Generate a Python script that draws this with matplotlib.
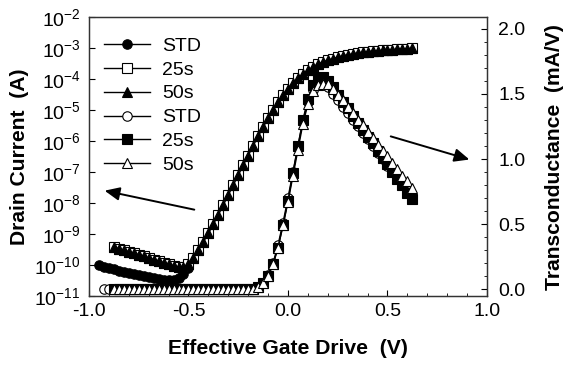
import matplotlib
matplotlib.use("Agg")
import matplotlib.pyplot as plt
import numpy as np
from matplotlib.ticker import FixedLocator, MultipleLocator

plt.rcParams['font.family'] = ['Liberation Sans', 'DejaVu Sans']
plt.rcParams['mathtext.fontset'] = 'custom'
plt.rcParams['mathtext.rm'] = 'Liberation Sans'
plt.rcParams['mathtext.default'] = 'regular'

# Effective gate drive (V)
V = [-0.95, -0.925, -0.9, -0.875, -0.85, -0.825, -0.8, -0.775, -0.75, -0.725,
     -0.7, -0.675, -0.65, -0.625, -0.6, -0.575, -0.55, -0.525, -0.5, -0.475,
     -0.45, -0.425, -0.4, -0.375, -0.35, -0.325, -0.3, -0.275, -0.25, -0.225,
     -0.2, -0.175, -0.15, -0.125, -0.1, -0.075, -0.05, -0.025, 0.0, 0.025,
     0.05, 0.075, 0.1, 0.125, 0.15, 0.175, 0.2, 0.225, 0.25, 0.275,
     0.3, 0.325, 0.35, 0.375, 0.4, 0.425, 0.45, 0.475, 0.5, 0.525,
     0.55, 0.575, 0.6, 0.625]

# log10 of drain current (A)
logid_std = [-10.00, -10.06, -10.10, -10.14, -10.18, -10.22, -10.26, -10.29, -10.32, -10.36,
             -10.39, -10.42, -10.45, -10.47, -10.48, -10.47, -10.42, -10.30, -10.08, -9.78,
             -9.50, -9.25, -8.98, -8.68, -8.38, -8.06, -7.74, -7.42, -7.10, -6.78,
             -6.47, -6.15, -5.85, -5.55, -5.27, -5.00, -4.75, -4.52, -4.32, -4.14,
             -3.98, -3.84, -3.72, -3.61, -3.52, -3.45, -3.39, -3.34, -3.29, -3.25,
             -3.22, -3.19, -3.16, -3.14, -3.12, -3.10, -3.08, -3.07, -3.06, -3.05,
             -3.04, -3.03, -3.02, -3.01]
logid_25s = [-9.42, -9.47, -9.52, -9.57, -9.62, -9.67, -9.72, -9.77, -9.82, -9.87,
             -9.92, -9.97, -10.02, -10.07, -10.06, -9.98, -9.76,
             -9.50, -9.25, -8.98, -8.68, -8.38, -8.06, -7.74, -7.42, -7.10, -6.78,
             -6.47, -6.15, -5.85, -5.55, -5.27, -5.00, -4.75, -4.52, -4.32, -4.14,
             -3.98, -3.84, -3.72, -3.61, -3.52, -3.45, -3.39, -3.34, -3.29, -3.25,
             -3.22, -3.19, -3.16, -3.14, -3.12, -3.10, -3.08, -3.07, -3.06, -3.05,
             -3.04, -3.03, -3.02, -3.01]
logid_50s = [-9.42, -9.47, -9.52, -9.57, -9.62, -9.67, -9.72, -9.77, -9.82, -9.87,
             -9.92, -9.97, -10.02, -10.07, -10.06, -9.98, -9.76,
             -9.50, -9.25, -8.98, -8.68, -8.38, -8.06, -7.74, -7.42, -7.10, -6.78,
             -6.47, -6.15, -5.85, -5.55, -5.27, -5.00, -4.75, -4.52, -4.32, -4.14,
             -3.98, -3.84, -3.72, -3.61, -3.52, -3.45, -3.39, -3.34, -3.29, -3.25,
             -3.22, -3.19, -3.16, -3.14, -3.12, -3.10, -3.08, -3.07, -3.06, -3.05,
             -3.04, -3.03, -3.02, -3.01]

# transconductance (mA/V)
gm_std = [0.0] * 30 + [0.005, 0.02, 0.05, 0.11, 0.20, 0.34, 0.51, 0.70, 0.90, 1.10,
                       1.29, 1.44, 1.53, 1.57, 1.57, 1.55, 1.50, 1.45, 1.40, 1.35,
                       1.30, 1.25, 1.20, 1.15, 1.10, 1.05, 1.00, 0.95, 0.90, 0.85,
                       0.80, 0.75]
gm_25s = [0.0] * 28 + [0.005, 0.02, 0.05, 0.10, 0.19, 0.32, 0.49, 0.68, 0.89, 1.10,
                       1.30, 1.46, 1.57, 1.62, 1.63, 1.60, 1.55, 1.49, 1.44, 1.39,
                       1.33, 1.28, 1.22, 1.17, 1.12, 1.06, 1.01, 0.96, 0.90, 0.85,
                       0.80, 0.74, 0.69]
gm_50s = [0.0] * 28 + [0.005, 0.02, 0.05, 0.10, 0.19, 0.32, 0.49, 0.67, 0.87, 1.07,
                       1.27, 1.42, 1.52, 1.57, 1.58, 1.58, 1.54, 1.49, 1.45, 1.40,
                       1.35, 1.30, 1.26, 1.21, 1.16, 1.11, 1.06, 1.02, 0.97, 0.92,
                       0.87, 0.83, 0.78]

labels = ["STD", "25s", "50s", "STD", "25s", "50s"]
x_ticks = [-1.0, -0.5, 0.0, 0.5, 1.0]
y_ticks_right = [0.0, 0.5, 1.0, 1.5, 2.0]

V_std_id = V
V_25_id = V[3:]
V_std_gm = V[1:-1]
V_25_gm = V[3:]

fig = plt.figure(figsize=(5.63, 3.72), dpi=100)
ax = fig.add_axes([0.158, 0.204, 0.707, 0.750])
ax2 = ax.twinx()

ms = 6.8
kw = dict(color='black', lw=1.0, ms=ms, mew=0.8, mec='black')
h1, = ax.plot(V_std_id, 10 ** np.array(logid_std), marker='o', mfc='black', **kw)
h2, = ax.plot(V_25_id, 10 ** np.array(logid_25s), marker='s', mfc='white', **kw)
h3, = ax.plot(V_25_id, 10 ** np.array(logid_50s), marker='^', mfc='black', **kw)
h4, = ax2.plot(V_std_gm, gm_std, marker='o', mfc='white', **kw)
h5, = ax2.plot(V_25_gm, gm_25s, marker='s', mfc='black', **kw)
h6, = ax2.plot(V_25_gm, gm_50s, marker='^', mfc='white', **kw)

ax.set_yscale('log')
ax.set_xlim(-1.0, 1.0)
ax.set_ylim(1e-11, 1e-2)
ax2.set_ylim(-0.053, 2.09)

dec = list(range(-11, -1))
ax.yaxis.set_major_locator(FixedLocator([10.0 ** d for d in dec]))
ax.yaxis.set_minor_locator(FixedLocator([]))
ax.set_yticklabels([r'$10^{%d}$' % d for d in dec])
ax.xaxis.set_major_locator(FixedLocator(x_ticks))
ax.xaxis.set_minor_locator(MultipleLocator(0.1))
ax.set_xticklabels(['%.1f' % t for t in x_ticks])
ax2.yaxis.set_major_locator(FixedLocator(y_ticks_right))
ax2.yaxis.set_minor_locator(MultipleLocator(0.1))
ax2.set_yticklabels(['%.1f' % t for t in y_ticks_right])

for a in (ax, ax2):
    a.tick_params(which='major', direction='in', length=4, width=0.8, labelsize=14, pad=6)
    a.tick_params(which='minor', direction='in', length=2, width=0.6)
    for s in a.spines.values():
        s.set_linewidth(0.9)
        s.set_color('#333333')
ax.tick_params(axis='x', which='major', pad=5)
ax2.tick_params(axis='y', which='major', pad=8)

ax.set_xlabel('Effective Gate Drive  (V)', fontsize=15.2, fontweight='bold', labelpad=13.5)
ax.set_ylabel('Drain Current  (A)', fontsize=15.2, fontweight='bold', labelpad=3.5)
ax2.set_ylabel('Transconductance  (mA/V)', fontsize=15.2, fontweight='bold', labelpad=14)

ax.annotate('', xy=(-0.935, 10 ** -7.58), xytext=(-0.457, 10 ** -8.23),
            arrowprops=dict(arrowstyle='-|>,head_length=0.9,head_width=0.4', color='black', lw=1.4))
ax2.annotate('', xy=(0.925, 0.99), xytext=(0.503, 1.18),
             arrowprops=dict(arrowstyle='-|>,head_length=0.9,head_width=0.4', color='black', lw=1.4))

leg = ax2.legend([h1, h2, h3, h4, h5, h6], labels, loc='upper left',
                 bbox_to_anchor=(0.038, 0.928), frameon=False, fontsize=14,
                 handlelength=2.37, handletextpad=0.62, labelspacing=0.32,
                 borderpad=0, borderaxespad=0)

fig.savefig('out.png', dpi=100)
